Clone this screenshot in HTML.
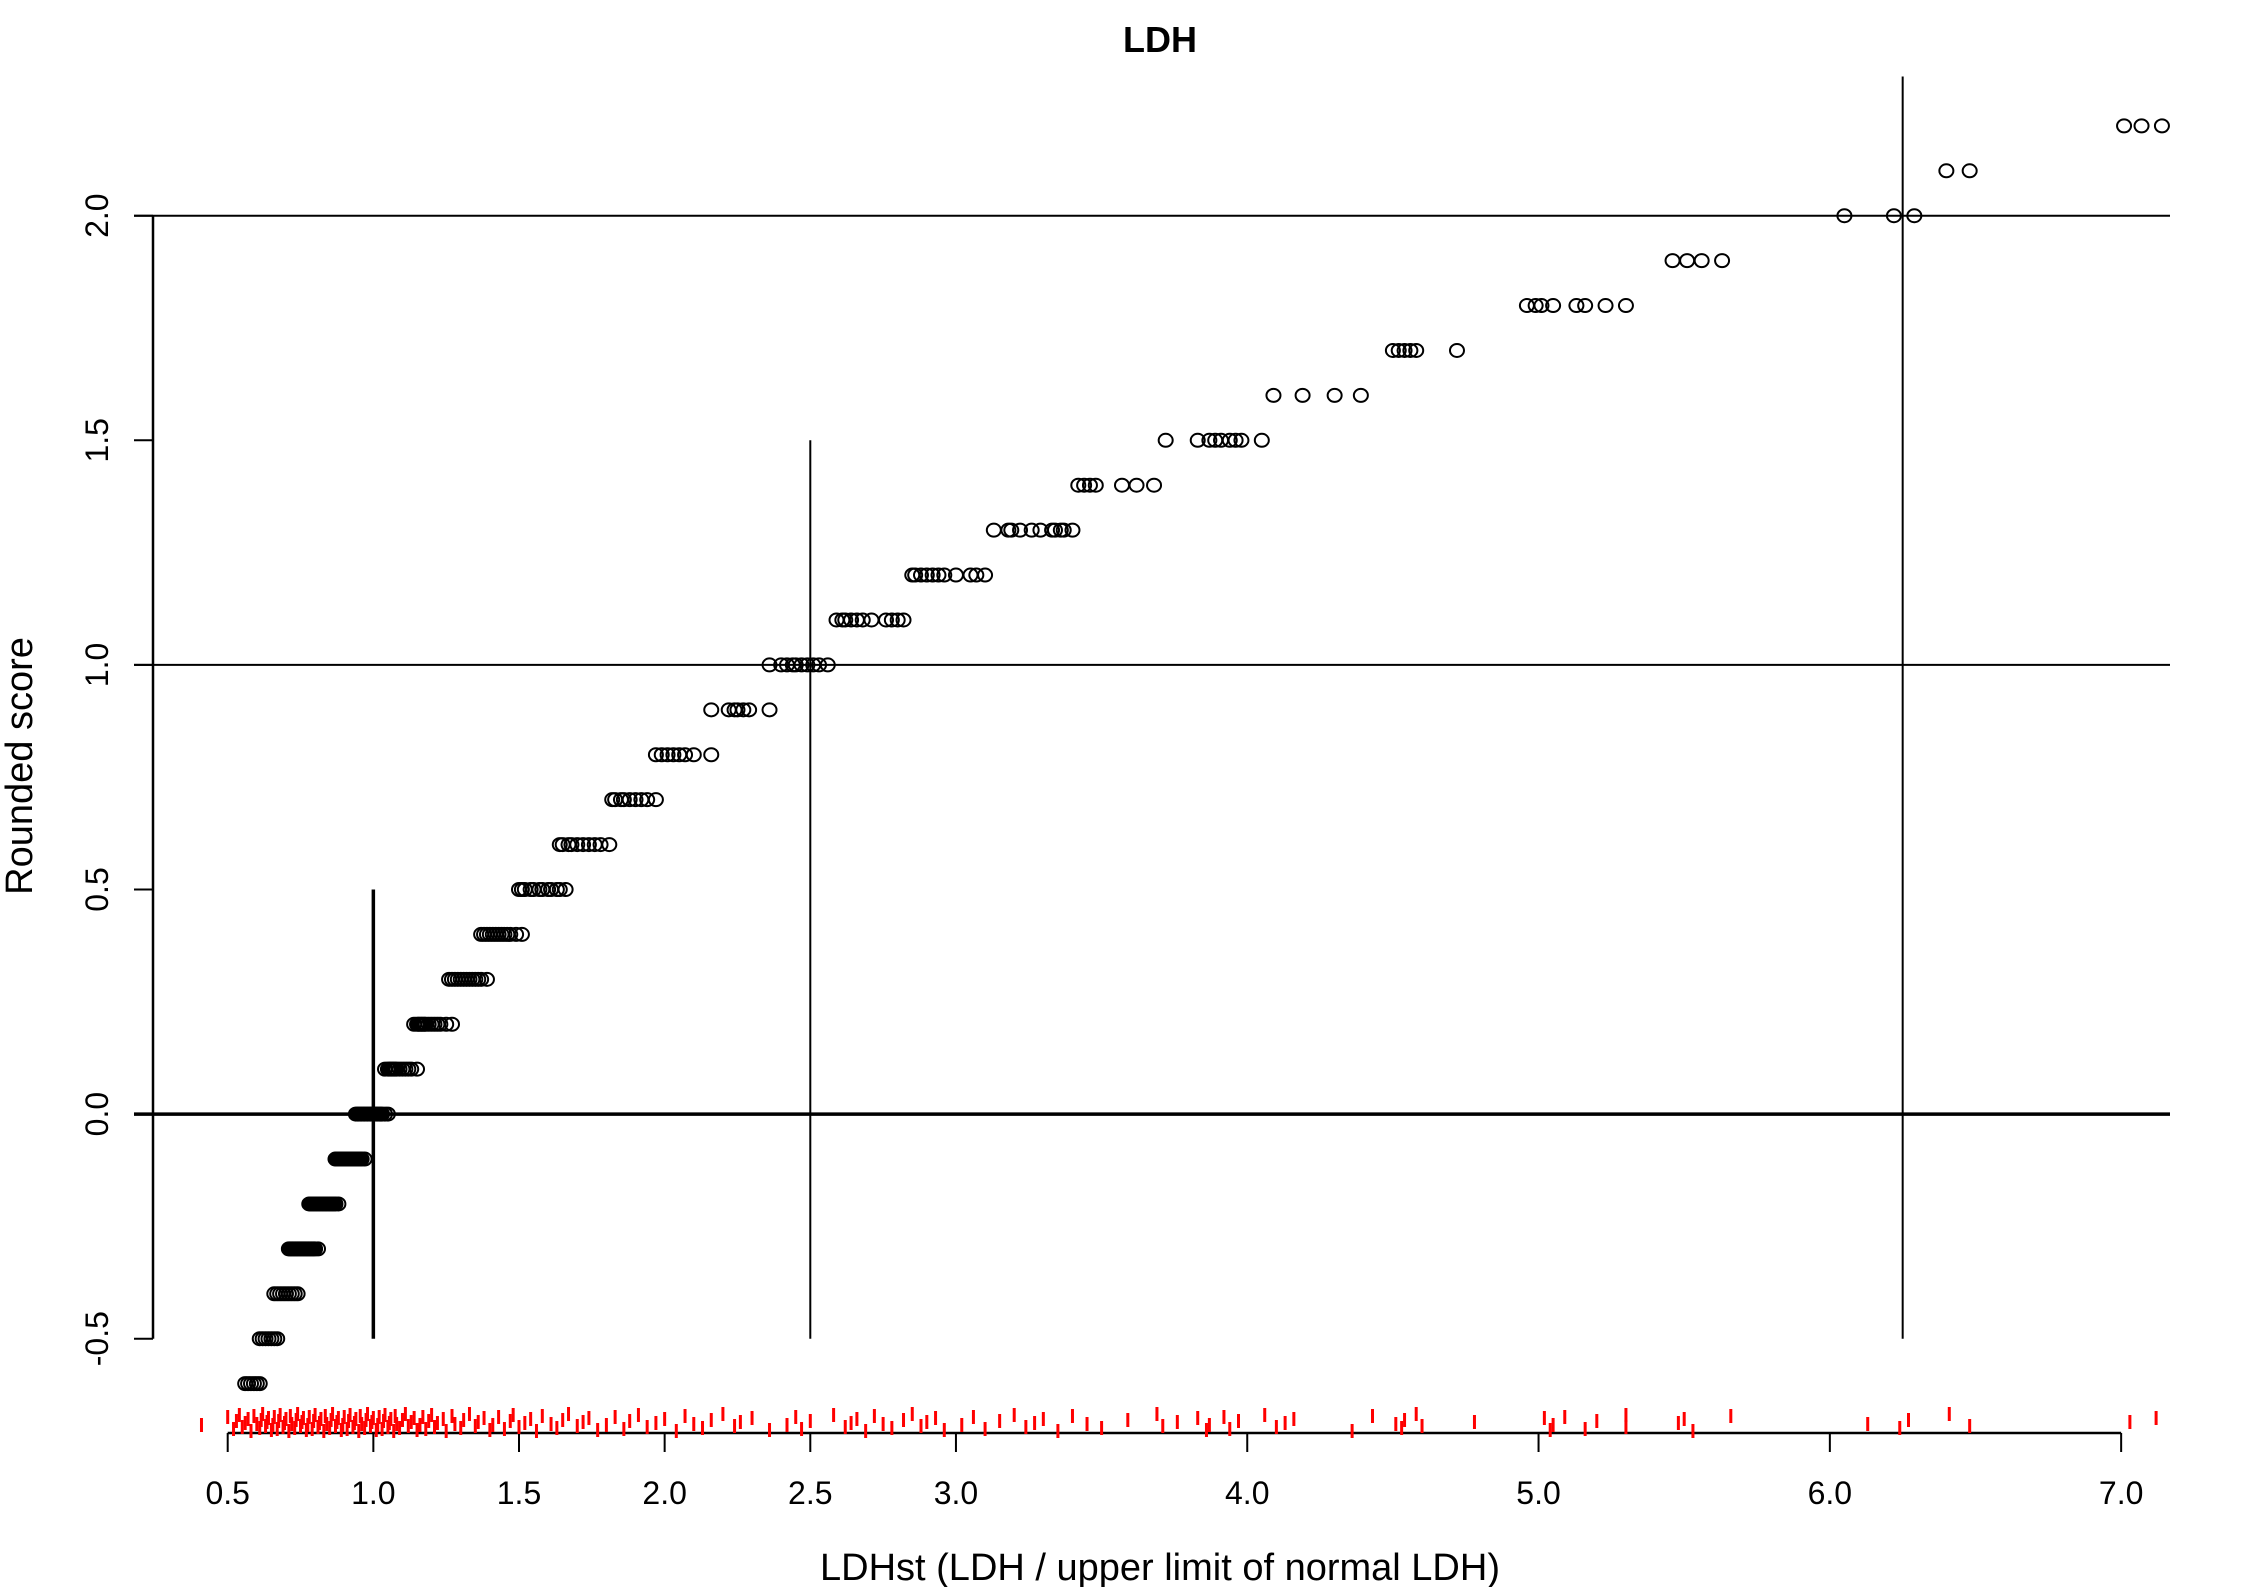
<!DOCTYPE html>
<html><head><meta charset="utf-8"><style>
html,body{margin:0;padding:0;background:#fff}
svg{display:block}
text{font-family:"Liberation Sans",sans-serif;fill:#000}
</style></head><body>
<svg id="chart" width="2244" height="1587" viewBox="0 0 2244 1587" xmlns="http://www.w3.org/2000/svg">
<defs><clipPath id="plotclip"><rect x="153" y="60" width="2017" height="1380"/></clipPath>
<clipPath id="rugclip"><rect x="0" y="1380" width="2172" height="80"/></clipPath></defs>
<text x="1160" y="52" font-size="36" font-weight="bold" text-anchor="middle">LDH</text>
<text x="1160" y="1580" font-size="38" text-anchor="middle">LDHst (LDH / upper limit of normal LDH)</text>
<text transform="translate(32,766) rotate(-90)" font-size="38" text-anchor="middle">Rounded score</text>
<g id="axes"></g>
<g id="refs"></g>
<g id="pts" clip-path="url(#plotclip)"></g>
<g id="rug" clip-path="url(#rugclip)"></g>
</svg>
<script>
const xTicks=[0.5,1.0,1.5,2.0,2.5,3.0,4.0,5.0,6.0,7.0];
const yTicks=[-0.5,0.0,0.5,1.0,1.5,2.0];
const levels=[-0.6,-0.5,-0.4,-0.3,-0.2,-0.1,0.0,0.1,0.2,0.3,0.4,0.5,0.6,0.7,0.8,0.9,1.0,1.1,1.2,1.3,1.4,1.5,1.6,1.7,1.8,1.9,2.0,2.1,2.2];
const levelX=[
[0.56,0.57,0.58,0.59,0.60,0.61],
[0.61,0.62,0.63,0.64,0.65,0.66,0.67],
[0.66,0.67,0.68,0.69,0.70,0.71,0.72,0.73,0.74],
[0.71,0.715,0.72,0.725,0.73,0.735,0.74,0.745,0.75,0.755,0.76,0.765,0.77,0.775,0.78,0.785,0.79,0.795,0.80,0.81],
[0.78,0.785,0.79,0.795,0.80,0.805,0.81,0.815,0.82,0.825,0.83,0.835,0.84,0.845,0.85,0.855,0.86,0.865,0.87,0.88],
[0.87,0.875,0.88,0.885,0.89,0.895,0.90,0.905,0.91,0.915,0.92,0.925,0.93,0.935,0.94,0.945,0.95,0.955,0.96,0.97],
[0.94,0.945,0.95,0.955,0.96,0.965,0.97,0.975,0.98,0.985,0.99,0.995,1.00,1.005,1.01,1.015,1.02,1.025,1.03,1.04,1.05],
[1.04,1.05,1.055,1.06,1.065,1.07,1.075,1.08,1.09,1.10,1.11,1.12,1.13,1.15],
[1.14,1.15,1.155,1.16,1.165,1.17,1.175,1.18,1.19,1.20,1.21,1.22,1.23,1.25,1.27],
[1.26,1.27,1.28,1.29,1.30,1.31,1.32,1.33,1.34,1.35,1.36,1.37,1.39],
[1.37,1.38,1.39,1.40,1.41,1.42,1.43,1.44,1.45,1.46,1.47,1.49,1.51],
[1.50,1.51,1.52,1.54,1.55,1.57,1.58,1.60,1.61,1.63,1.64,1.66],
[1.64,1.65,1.67,1.68,1.70,1.72,1.74,1.76,1.78,1.81],
[1.82,1.83,1.85,1.86,1.88,1.90,1.92,1.94,1.97],
[1.97,1.99,2.01,2.03,2.05,2.07,2.10,2.16],
[2.16,2.22,2.24,2.25,2.27,2.29,2.36],
[2.36,2.40,2.42,2.44,2.45,2.47,2.49,2.51,2.53,2.56],
[2.59,2.61,2.62,2.64,2.66,2.68,2.71,2.76,2.78,2.80,2.82],
[2.85,2.86,2.88,2.90,2.92,2.94,2.96,3.00,3.05,3.07,3.10],
[3.13,3.18,3.19,3.22,3.26,3.29,3.33,3.34,3.36,3.37,3.40],
[3.42,3.44,3.46,3.48,3.57,3.62,3.68],
[3.72,3.83,3.87,3.89,3.91,3.94,3.96,3.98,4.05],
[4.09,4.19,4.30,4.39],
[4.50,4.52,4.54,4.56,4.58,4.72],
[4.96,4.99,5.01,5.05,5.13,5.16,5.23,5.30],
[5.46,5.51,5.56,5.63],
[6.05,6.22,6.29],
[6.40,6.48],
[7.01,7.07,7.14]];
const rugX=[0.41,0.50,0.52,0.53,0.54,0.55,0.56,0.57,0.58,0.59,0.60,0.61,0.615,0.62,0.63,0.635,0.64,0.65,0.655,0.66,0.67,0.675,0.68,0.69,0.695,0.70,0.71,0.715,0.72,0.73,0.735,0.74,0.75,0.755,0.76,0.77,0.775,0.78,0.79,0.795,0.80,0.81,0.815,0.82,0.83,0.835,0.84,0.85,0.855,0.86,0.87,0.875,0.88,0.89,0.895,0.90,0.91,0.915,0.92,0.93,0.935,0.94,0.95,0.955,0.96,0.97,0.975,0.98,0.99,0.995,1.00,1.01,1.015,1.02,1.03,1.035,1.04,1.05,1.055,1.06,1.07,1.075,1.08,1.09,1.10,1.11,1.12,1.13,1.14,1.15,1.16,1.17,1.18,1.19,1.20,1.21,1.22,1.24,1.25,1.27,1.28,1.30,1.31,1.33,1.35,1.36,1.38,1.40,1.41,1.43,1.45,1.47,1.48,1.50,1.52,1.54,1.56,1.58,1.61,1.63,1.65,1.67,1.70,1.72,1.74,1.77,1.80,1.83,1.86,1.88,1.91,1.94,1.97,2.00,2.04,2.07,2.10,2.13,2.16,2.20,2.24,2.26,2.30,2.36,2.42,2.45,2.47,2.50,2.58,2.62,2.64,2.66,2.69,2.72,2.75,2.78,2.82,2.85,2.88,2.90,2.93,2.96,3.02,3.06,3.10,3.15,3.20,3.24,3.27,3.30,3.35,3.40,3.45,3.50,3.59,3.69,3.71,3.76,3.83,3.86,3.87,3.92,3.94,3.97,4.06,4.10,4.13,4.16,4.36,4.43,4.51,4.53,4.54,4.58,4.60,4.78,5.02,5.04,5.05,5.09,5.16,5.20,5.30,5.30,5.48,5.50,5.53,5.66,6.13,6.24,6.27,6.41,6.48,7.03,7.12,7.22];
const rugTop=[12,4,16,8,2,14,10,6,18,3,11,15,7,1,13,9,5,17];

const NS='http://www.w3.org/2000/svg';
const X0=227.7, XU=291.3, Y2=215.7, YU=449.2, XR=2170;
function sx(v){return X0+(v-0.5)*XU;}
function sy(v){return Y2+(2-v)*YU;}
function mk(tag,attrs,parent){const e=document.createElementNS(NS,tag);for(const k in attrs)e.setAttribute(k,attrs[k]);parent.appendChild(e);return e;}
const axes=document.getElementById('axes'),refs=document.getElementById('refs'),pts=document.getElementById('pts'),rug=document.getElementById('rug');

let l=mk('line',{x1:153,y1:sy(2),x2:153,y2:sy(-0.5),stroke:'#000','stroke-width':2.5},axes);


yTicks.forEach(v=>{
 const t=mk('line',{x1:134,y1:sy(v),x2:153,y2:sy(v),stroke:'#000','stroke-width':2},axes);
 
 
 const tx=mk('text',{transform:`translate(108,${sy(v)}) rotate(-90)`,'font-size':32,'text-anchor':'middle'},axes);
 tx.textContent=v.toFixed(1);
 
 
});
l=mk('line',{x1:sx(0.5),y1:1433,x2:sx(7.0),y2:1433,stroke:'#000','stroke-width':2.5},axes);


xTicks.forEach(v=>{
 const t=mk('line',{x1:sx(v),y1:1433,x2:sx(v),y2:1452,stroke:'#000','stroke-width':2},axes);
 
 
 const tx=mk('text',{x:sx(v),y:1504,'font-size':32,'text-anchor':'middle'},axes);
 tx.textContent=v.toFixed(1);
 
 
});
[[2.0,2],[1.0,2],[0.0,3.5]].forEach(([v,w])=>{
 const r=mk('line',{x1:134,y1:sy(v),x2:XR,y2:sy(v),stroke:'#000','stroke-width':w},refs);
 
 
});
[[1.0,0.5,3.5],[2.5,1.5,2],[6.25,2.31,2]].forEach(([xv,top,w])=>{
 const r=mk('line',{x1:sx(xv),y1:sy(top),x2:sx(xv),y2:sy(-0.5),stroke:'#000','stroke-width':w},refs);
 
 
});
levels.forEach((lv,i)=>{
 levelX[i].forEach(xv=>{
  const c=mk('ellipse',{cx:sx(xv),cy:sy(lv),rx:7,ry:6.5,fill:'none',stroke:'#000','stroke-width':2},pts);
  
  
 });
});
rugX.forEach((xv,i)=>{
 const top=1406+rugTop[i%rugTop.length];
 const r=mk('line',{x1:sx(xv),y1:top,x2:sx(xv),y2:top+14,stroke:'#f00','stroke-width':3},rug);
 
 
});
</script>
</body></html>
